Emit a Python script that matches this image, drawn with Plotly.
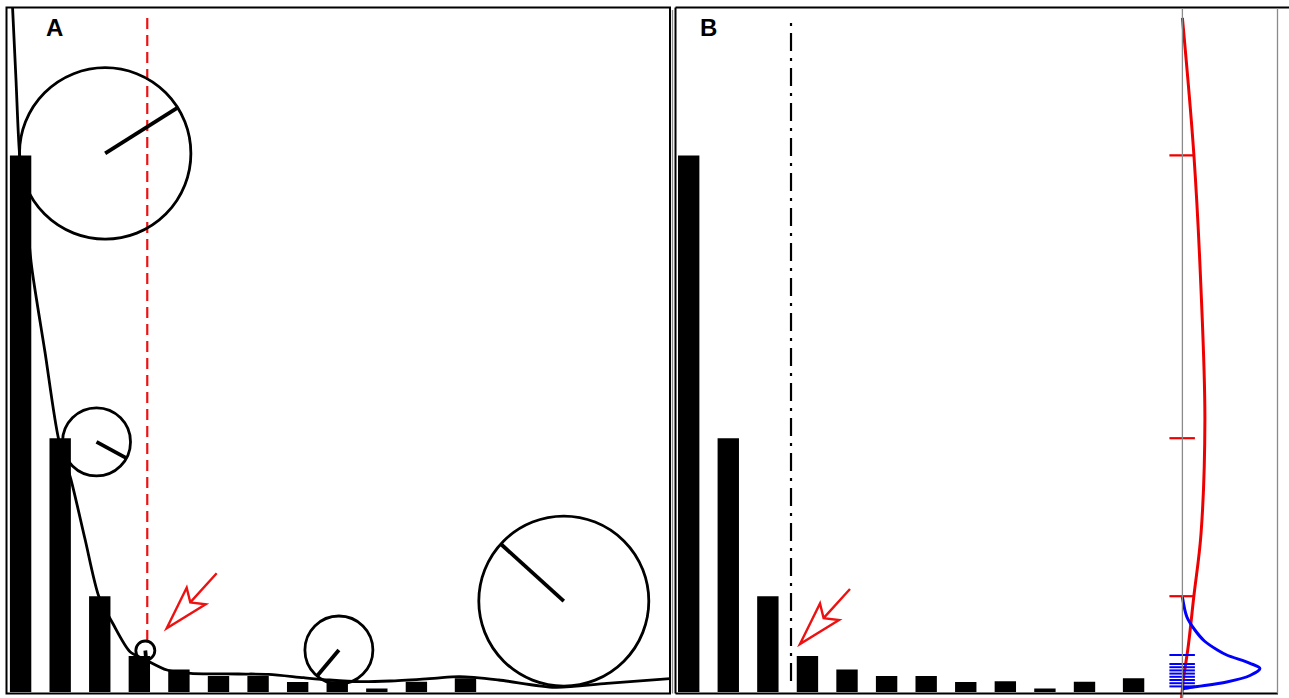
import math
import plotly.graph_objects as go

W, H = 1289, 698

# ---------------- data ----------------
components = [1, 2, 3, 4, 5, 6, 7, 8, 9, 10, 11, 12.24]
eigenvalues = [5.366, 2.538, 0.958, 0.360, 0.226, 0.159, 0.159, 0.100, 0.107, 0.035, 0.102, 0.138]

# smooth curve fitted through the scree (panel A)
curve_x = [0.79, 0.884, 0.972, 1.136, 1.280, 1.616, 1.958, 2.266, 2.627, 2.978, 3.327, 3.764,
           4.143, 4.699, 5.300, 6.505, 7.273, 8.150, 8.807, 9.575, 10.333, 11.437, 12.094,
           13.079, 14.502, 15.815, 17.46]
curve_y = [6.90, 6.12, 5.39, 4.82, 4.25, 3.40, 2.534, 2.134, 1.53, 0.954, 0.687, 0.403,
           0.325, 0.220, 0.187, 0.180, 0.177, 0.143, 0.120, 0.103, 0.110, 0.137, 0.153,
           0.120, 0.047, 0.087, 0.135]

# osculating circles (centre in data units, radius in px, angle of drawn radius)
circle_x = [3.137, 2.918, 4.151, 9.042, 14.724]
circle_y = [5.386, 2.501, 0.415, 0.420, 0.909]
circle_r = [85.7, 34.0, 9.5, 34.0, 85.0]
circle_angle = [32.2, -28.5, -85.0, -130.0, 137.8]

elbow_A = 4.2          # red dashed cut-off (panel A)
elbow_B = 3.585        # dash-dot cut-off (panel B)
arrow_A = (4.691, 0.637)
arrow_B = (3.812, 0.480)

# side panel: densities of the two groups
red_y = [6.742, 5.37, 4.03, 2.72, 1.58, 0.953, 0.47, 0.11, -0.06]
red_d = [0.0, 0.115, 0.186, 0.225, 0.186, 0.114, 0.060, 0.008, -0.008]
blue_y = [0.95, 0.75, 0.62, 0.51, 0.42, 0.37, 0.287, 0.235, 0.165, 0.10, 0.055, 0.037, 0.03]
blue_d = [0.0, 0.045, 0.125, 0.22, 0.35, 0.443, 0.676, 0.775, 0.676, 0.443, 0.15, 0.03, 0.005]
signal_ticks = eigenvalues[:3]
noise_ticks = [0.37, 0.28, 0.248, 0.216, 0.184, 0.152, 0.12, 0.088, 0.056]

panel_labels = ["A", "B"]

# ---------------- geometry ----------------
PXX = 39.58      # px per component
PXY = 100.0      # px per eigenvalue unit
Y0 = 692.0       # pixel row of value 0
XA0, XB0 = 20.6, 688.7   # pixel column of component 1 in A / B


def fx(px):
    return px / W


def fy(py):
    return 1 - py / H


fig = go.Figure()

fig.add_trace(go.Bar(x=components, y=eigenvalues, width=0.54, marker=dict(color="black", line=dict(width=0)),
                     xaxis="x", yaxis="y", showlegend=False))
fig.add_trace(go.Bar(x=components, y=eigenvalues, width=0.54, marker=dict(color="black", line=dict(width=0)),
                     xaxis="x2", yaxis="y2", showlegend=False))
fig.add_trace(go.Scatter(x=curve_x, y=curve_y, mode="lines", xaxis="x", yaxis="y",
                         line=dict(color="black", width=2.8, shape="spline", smoothing=0.8), showlegend=False))

# cut-off lines
fig.add_trace(go.Scatter(x=[elbow_A, elbow_A], y=[0.51, 6.74], mode="lines", xaxis="x", yaxis="y",
                         line=dict(color="#ee1111", width=2.2, dash="11px,6px"), showlegend=False))
fig.add_trace(go.Scatter(x=[elbow_B, elbow_B], y=[0.11, 6.70], mode="lines", xaxis="x2", yaxis="y2",
                         line=dict(color="black", width=2.2, dash="18px,7px,3px,7px"), showlegend=False))

# side panel
fig.add_trace(go.Scatter(x=red_d, y=red_y, mode="lines", xaxis="x3", yaxis="y3",
                         line=dict(color="#ee0000", width=3, shape="spline", smoothing=1.0), showlegend=False))
fig.add_trace(go.Scatter(x=blue_d, y=blue_y, mode="lines", xaxis="x3", yaxis="y3",
                         line=dict(color="#0000ff", width=3, shape="spline", smoothing=0.9), showlegend=False))
tx, ty = [], []
for v in signal_ticks:
    tx += [-0.13, 0.125, None]
    ty += [v, v, None]
fig.add_trace(go.Scatter(x=tx, y=ty, mode="lines", xaxis="x3", yaxis="y3",
                         line=dict(color="#ee0000", width=2.2), showlegend=False))
bx, by = [], []
for v in noise_ticks:
    bx += [-0.13, 0.125, None]
    by += [v, v, None]
fig.add_trace(go.Scatter(x=bx, y=by, mode="lines", xaxis="x3", yaxis="y3",
                         line=dict(color="#0000ff", width=2), showlegend=False))

shapes = []
# circles and radii
for cx, cy, r, a in zip(circle_x, circle_y, circle_r, circle_angle):
    shapes.append(dict(type="circle", xref="x", yref="y", xsizemode="pixel", ysizemode="pixel",
                       xanchor=cx, yanchor=cy, x0=-r, x1=r, y0=-r, y1=r,
                       line=dict(color="black", width=2.8), fillcolor="rgba(0,0,0,0)"))
    rad = math.radians(a)
    shapes.append(dict(type="line", xref="x", yref="y", xsizemode="pixel", ysizemode="pixel",
                       xanchor=cx, yanchor=cy, x0=0, y0=0, x1=r * math.cos(rad), y1=r * math.sin(rad),
                       line=dict(color="black", width=3.8)))

# hollow arrows (pixel geometry relative to the tip)
arrow_path = "M 50,55 L 23.6,25.9 M 0,0 L 20,40.5 L 23.6,25.9 L 39,24 Z"
for (ax, ay), xr, yr in [(arrow_A, "x", "y"), (arrow_B, "x2", "y2")]:
    shapes.append(dict(type="path", xref=xr, yref=yr, xsizemode="pixel", ysizemode="pixel",
                       xanchor=ax, yanchor=ay, path=arrow_path,
                       line=dict(color="#ee1111", width=2.4), fillcolor="rgba(0,0,0,0)"))

# frames
blk = dict(color="black", width=2)
grey = dict(color="#8a8a8a", width=1.3)
shapes += [
    dict(type="rect", xref="paper", yref="paper", x0=fx(6.5), x1=fx(670), y0=fy(693.5), y1=fy(7.5), line=blk),
    dict(type="line", xref="paper", yref="paper", x0=fx(672.5), x1=fx(672.5), y0=fy(693.5), y1=fy(10), line=grey),
    dict(type="line", xref="paper", yref="paper", x0=fx(675.5), x1=fx(1289), y0=fy(7.5), y1=fy(7.5), line=blk),
    dict(type="line", xref="paper", yref="paper", x0=fx(675.5), x1=fx(675.5), y0=fy(7.5), y1=fy(693.5), line=blk),
    dict(type="line", xref="paper", yref="paper", x0=fx(675.5), x1=fx(1278), y0=fy(693.5), y1=fy(693.5), line=blk),
    dict(type="line", xref="paper", yref="paper", x0=fx(1182.4), x1=fx(1182.4), y0=fy(8), y1=fy(698), line=grey),
    dict(type="line", xref="paper", yref="paper", x0=fx(1277.5), x1=fx(1277.5), y0=fy(8), y1=fy(693.5), line=grey),
]

ax_common = dict(visible=False, showgrid=False, zeroline=False, fixedrange=True)
label_font = dict(family="Liberation Sans, Arial", size=24, color="black")
fig.update_layout(
    width=W, height=H, margin=dict(l=0, r=0, t=0, b=0),
    paper_bgcolor="white", plot_bgcolor="rgba(0,0,0,0)", barmode="overlay", showlegend=False,
    xaxis=dict(domain=[fx(6.5), fx(670)], range=[1 + (6.5 - XA0) / PXX, 1 + (670 - XA0) / PXX], **ax_common),
    yaxis=dict(domain=[fy(693.5), fy(7.5)], range=[(Y0 - 693.5) / PXY, (Y0 - 7.5) / PXY], **ax_common),
    xaxis2=dict(domain=[fx(675.5), fx(1182.4)], range=[1 + (675.5 - XB0) / PXX, 1 + (1182.4 - XB0) / PXX],
                anchor="y2", **ax_common),
    yaxis2=dict(domain=[fy(693.5), fy(7.5)], range=[(Y0 - 693.5) / PXY, (Y0 - 7.5) / PXY], anchor="x2",
                **ax_common),
    xaxis3=dict(domain=[fx(1140), 1.0], range=[(1140 - 1182.4) / PXY, (1289 - 1182.4) / PXY], anchor="y3",
                **ax_common),
    yaxis3=dict(domain=[0.0, fy(7.5)], range=[(Y0 - 698) / PXY, (Y0 - 7.5) / PXY], anchor="x3", **ax_common),
    shapes=shapes,
    annotations=[
        dict(text="<b>%s</b>" % panel_labels[0], x=fx(54.5), y=fy(27.5), xref="paper", yref="paper",
             xanchor="center", yanchor="middle", showarrow=False, font=label_font),
        dict(text="<b>%s</b>" % panel_labels[1], x=fx(708.5), y=fy(27.5), xref="paper", yref="paper",
             xanchor="center", yanchor="middle", showarrow=False, font=label_font),
    ],
)

fig.write_html("out.html", config={"displayModeBar": False},
               post_script="document.body.style.margin='0px';document.body.style.overflow='hidden';")
